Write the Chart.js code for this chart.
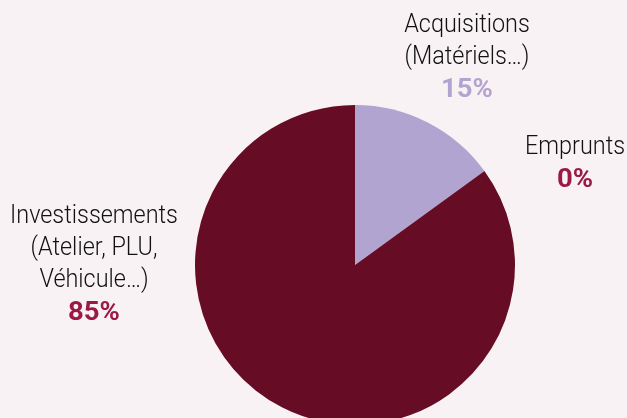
<!DOCTYPE html>
<html>
<head>
<meta charset="utf-8">
<script src="https://cdn.jsdelivr.net/npm/chart.js@4.4.0/dist/chart.umd.min.js"></script>
<style>
  html, body { margin: 0; padding: 0; background: #f9f2f4; overflow: hidden; }
  #wrap { width: 627px; height: 440px; }
</style>
</head>
<body>
<div id="wrap"><canvas id="pie" width="627" height="440"></canvas></div>
<script>
// data
const categories = ["Acquisitions (Matériels…)", "Emprunts", "Investissements (Atelier, PLU, Véhicule…)"];
const labelLines = [["Acquisitions", "(Matériels…)"], ["Emprunts"], ["Investissements", "(Atelier, PLU,", "Véhicule…)"]];
const shares = [15, 0, 85];

const sliceColors = ["#b1a4d1", "#9b1a45", "#660c24"];
const pctColors = ["#b1a4d1", "#9b1a45", "#9b1a45"];
// label anchor (dx, dy of first line) relative to pie centre
const labelPos = [[112, -240], [220, -118], [-261, -49]];

const FONT = "'Roboto', sans-serif";

function narrowText(ctx, text, x, y, sx) {
    ctx.save();
    ctx.translate(x, y);
    ctx.scale(sx, 1);
    ctx.fillText(text, 0, 0);
    ctx.restore();
}

const outsideLabels = {
    id: "outsideLabels",
    afterDraw(chart) {
        const ctx = chart.ctx;
        const arc = chart.getDatasetMeta(0).data[0];
        const cx = arc.x, cy = arc.y;
        ctx.save();
        ctx.textAlign = "center";
        ctx.textBaseline = "middle";
        labelLines.forEach((lines, i) => {
            let x = cx + labelPos[i][0];
            let y = cy + labelPos[i][1];
            ctx.fillStyle = "#111111";
            ctx.font = "300 26px " + FONT;
            lines.forEach(l => {
                narrowText(ctx, l, x, y, 0.9);
                y += 32;
            });
            ctx.fillStyle = pctColors[i];
            ctx.font = "bold 25px " + FONT;
            narrowText(ctx, shares[i] + "%", x, y + 2, 1.1);
        });
        ctx.restore();
    }
};

new Chart(document.getElementById("pie"), {
    type: "pie",
    data: {
        labels: categories,
        datasets: [{
            data: shares,
            backgroundColor: sliceColors,
            borderWidth: 0,
            hoverOffset: 0
        }]
    },
    options: {
        responsive: false,
        animation: false,
        layout: { padding: { left: 195, right: 112, top: 105, bottom: 15 } },
        plugins: {
            legend: { display: false },
            tooltip: { enabled: false }
        }
    },
    plugins: [outsideLabels]
});
</script>
</body>
</html>
